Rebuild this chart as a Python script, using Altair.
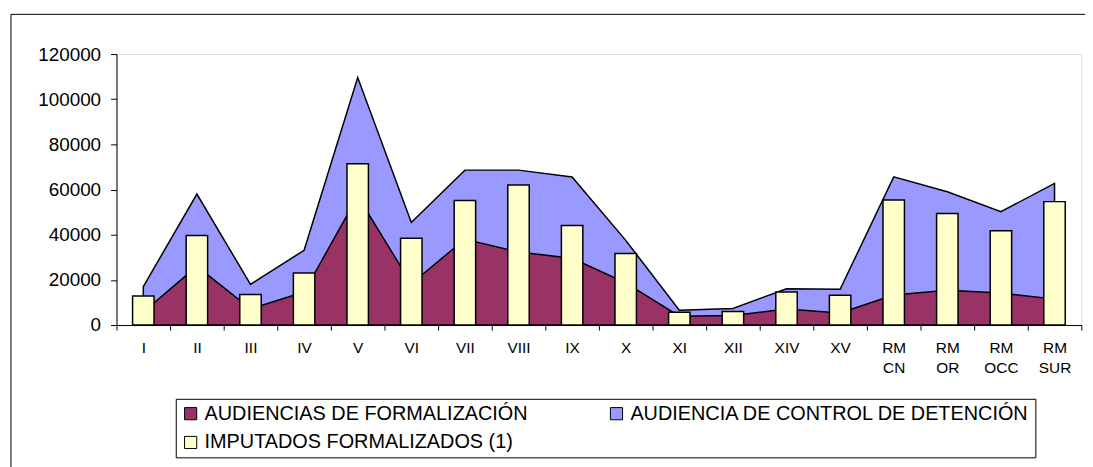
import altair as alt
import pandas as pd

cats = ["I", "II", "III", "IV", "V", "VI", "VII", "VIII", "IX", "X", "XI", "XII",
        "XIV", "XV", "RM CN", "RM OR", "RM OCC", "RM SUR"]
formalizacion = [5800, 26000, 7200, 14600, 57000, 18300, 38000, 32300, 29600, 18700,
                 3900, 4200, 7150, 5300, 13300, 15450, 14150, 11500]
control = [17000, 58000, 18000, 33100, 109600, 45400, 68600, 68600, 65600, 37500,
           6600, 7300, 16100, 15800, 65600, 59000, 50200, 62700]
imputados = [12900, 39600, 13500, 23000, 71400, 38400, 55200, 62000, 44100, 31650,
             5700, 6000, 14650, 13200, 55400, 49400, 41800, 54650]

s_form = "AUDIENCIAS DE FORMALIZACIÓN"
s_ctrl = "AUDIENCIA DE CONTROL DE DETENCIÓN"
s_imp = "IMPUTADOS FORMALIZADOS (1)"
series_names = [s_form, s_ctrl, s_imp]
series_colors = ["#993366", "#9999FF", "#FFFFCC"]
y_ticks = [0, 20000, 40000, 60000, 80000, 100000, 120000]

rows = []
for name, vals in [(s_form, formalizacion), (s_ctrl, control), (s_imp, imputados)]:
    for c, v in zip(cats, vals):
        rows.append({"cat": c, "series": name, "value": v})
df = pd.DataFrame(rows)

FONT = "Liberation Sans"

x_scale = alt.Scale(domain=cats, paddingInner=0, paddingOuter=0)
y_enc = alt.Y("value:Q", stack=None,
              scale=alt.Scale(domain=[0, 120000], nice=False),
              axis=alt.Axis(values=y_ticks, format="d", grid=False, title=None,
                            labelFontSize=19, labelFont=FONT, labelColor="black",
                            tickSize=6, labelPadding=10, tickColor="black",
                            domainColor="black"))
color_enc = alt.Color("series:N",
                      scale=alt.Scale(domain=series_names, range=series_colors),
                      legend=alt.Legend(title=None, orient="none", legendX=59.7, legendY=347.3,
                                        direction="horizontal",
                                        columns=2, columnPadding=79, rowPadding=9,
                                        padding=5, strokeColor="black", fillColor="white",
                                        labelFontSize=20, labelFont=FONT, labelColor="black",
                                        labelLimit=600, labelOffset=4,
                                        symbolType="square", symbolSize=150,
                                        symbolStrokeColor="black", symbolStrokeWidth=1,
                                        symbolOpacity=1))
x_axis = alt.Axis(title=None, labelAngle=0, tickBand="extent", labelFontSize=15.5,
                  labelFont=FONT, labelColor="black", tickSize=5, labelPadding=11,
                  labelExpr="split(datum.label, ' ')", labelLineHeight=20,
                  tickColor="black", domainColor="black")

base = alt.Chart(df)

area_ctrl = base.transform_filter(alt.datum.series == s_ctrl).mark_area(
    stroke="black", strokeWidth=1.5, opacity=1
).encode(
    x=alt.X("cat:N", scale=x_scale, axis=x_axis, bandPosition=0.5, sort=cats),
    y=y_enc,
    color=color_enc,
)
area_form = base.transform_filter(alt.datum.series == s_form).mark_area(
    stroke="black", strokeWidth=1.5, opacity=1
).encode(
    x=alt.X("cat:N", scale=x_scale, axis=x_axis, bandPosition=0.5, sort=cats),
    y=y_enc,
    color=color_enc,
)
bars = base.transform_filter(alt.datum.series == s_imp).mark_bar(
    stroke="black", strokeWidth=1.5, width=alt.RelativeBandSize(0.4)
).encode(
    x=alt.X("cat:N", scale=x_scale, axis=x_axis, sort=cats),
    y=y_enc,
    color=color_enc,
)

frame_df = pd.DataFrame({"k": [0]})
frame_top = alt.Chart(frame_df).mark_rule(color="black", strokeWidth=1).encode(
    x=alt.value(-106.3), x2=alt.value(1000), y=alt.value(-40))
frame_left = alt.Chart(frame_df).mark_rule(color="black", strokeWidth=1).encode(
    x=alt.value(-106.3), y=alt.value(-40), y2=alt.value(430))

chart = alt.layer(area_ctrl, area_form, bars, frame_top, frame_left).properties(
    width=972, height=273,
    autosize=alt.AutoSizeParams(type="none"),
    padding={"left": 109.3, "top": 44.7, "right": 3.7, "bottom": 141},
).configure_view(stroke="#808080", strokeWidth=1.5).configure(
    font=FONT, background="white")

chart.save("out.html", embed_options={"renderer": "svg", "actions": False})
